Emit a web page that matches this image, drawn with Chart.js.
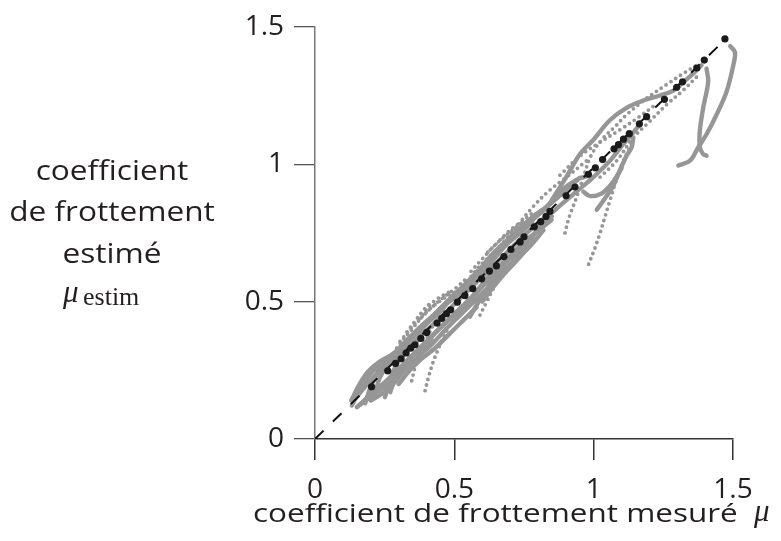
<!DOCTYPE html>
<html>
<head>
<meta charset="utf-8">
<script src="https://cdn.jsdelivr.net/npm/chart.js@4.4.1/dist/chart.umd.min.js"></script>
<style>
  body { margin: 0; background: #fff; }
</style>
</head>
<body>
<canvas id="frictionChart" width="781" height="541"></canvas>
<script>
/************************ DATA ************************** */
const tickValues = [0, 0.5, 1, 1.5];
const tickLabels = ["0", "0.5", "1", "1.5"];

// black estimated points (roughly on the diagonal)
const estimX = [0.203, 0.261, 0.289, 0.309, 0.327, 0.344, 0.359, 0.38, 0.401, 0.438, 0.455, 0.472, 0.487, 0.511, 0.538, 0.566, 0.598, 0.626, 0.651, 0.678, 0.703, 0.736, 0.75, 0.787, 0.81, 0.829, 0.843, 0.901, 0.933, 0.981, 1.006, 1.032, 1.073, 1.089, 1.107, 1.128, 1.164, 1.19, 1.254, 1.298, 1.319, 1.37, 1.397, 1.471];
const estimY = [0.19, 0.248, 0.275, 0.292, 0.313, 0.331, 0.343, 0.366, 0.388, 0.422, 0.439, 0.456, 0.47, 0.498, 0.522, 0.547, 0.583, 0.611, 0.63, 0.664, 0.69, 0.717, 0.736, 0.772, 0.791, 0.81, 0.828, 0.885, 0.917, 0.963, 0.987, 1.017, 1.056, 1.071, 1.091, 1.111, 1.147, 1.173, 1.236, 1.28, 1.3, 1.35, 1.379, 1.456];

// reference line
const refX = [0, 1.48];
const refY = [0, 1.462];

// gray trajectories, solid strands
const bandUpper = [[0.132, 0.122], [0.167, 0.188], [0.209, 0.248], [0.257, 0.283], [0.305, 0.325], [0.353, 0.373], [0.401, 0.421], [0.449, 0.463], [0.496, 0.523], [0.544, 0.559], [0.592, 0.6], [0.64, 0.66], [0.688, 0.72], [0.736, 0.768], [0.783, 0.81], [0.831, 0.846], [0.879, 0.9], [0.939, 0.944], [0.987, 0.959]];
const bandUpper2 = [[0.14, 0.15], [0.18, 0.22], [0.22, 0.265], [0.27, 0.3], [0.32, 0.345], [0.37, 0.39], [0.42, 0.44], [0.47, 0.49], [0.52, 0.53], [0.58, 0.585], [0.63, 0.64], [0.68, 0.7], [0.73, 0.745], [0.78, 0.79]];
const bandUpper3 = [[0.13, 0.14], [0.16, 0.2], [0.19, 0.245], [0.23, 0.28], [0.28, 0.31], [0.33, 0.36], [0.38, 0.41], [0.43, 0.455], [0.48, 0.505], [0.53, 0.545], [0.58, 0.6], [0.63, 0.665], [0.68, 0.715], [0.73, 0.76], [0.78, 0.8], [0.83, 0.84]];
const bandLower = [[0.15, 0.116], [0.197, 0.152], [0.245, 0.188], [0.281, 0.224], [0.329, 0.283], [0.377, 0.331], [0.425, 0.379], [0.472, 0.427], [0.52, 0.475], [0.568, 0.523], [0.616, 0.583], [0.664, 0.63], [0.712, 0.678], [0.76, 0.726], [0.807, 0.762], [0.849, 0.798]];
const bandLower2 = [[0.16, 0.125], [0.21, 0.17], [0.26, 0.215], [0.31, 0.265], [0.36, 0.315], [0.41, 0.365], [0.46, 0.415], [0.51, 0.46], [0.56, 0.51], [0.61, 0.565], [0.66, 0.615], [0.71, 0.665], [0.76, 0.71], [0.81, 0.775], [0.85, 0.81]];
const bandLower3 = [[0.2, 0.14], [0.24, 0.165], [0.28, 0.2], [0.32, 0.25], [0.37, 0.3], [0.42, 0.345], [0.47, 0.4], [0.52, 0.45], [0.57, 0.5], [0.62, 0.55], [0.67, 0.6], [0.72, 0.655], [0.77, 0.7], [0.82, 0.76]];
const bandLower4 = [[0.3, 0.2], [0.34, 0.25], [0.38, 0.29], [0.43, 0.33], [0.48, 0.38], [0.53, 0.43], [0.58, 0.48]];
const bandMid = [[0.138, 0.14], [0.221, 0.236], [0.305, 0.307], [0.389, 0.385], [0.472, 0.463], [0.568, 0.559], [0.664, 0.654], [0.76, 0.75], [0.843, 0.822]];
const bandMid2 = [[0.25, 0.27], [0.35, 0.37], [0.45, 0.475], [0.55, 0.575], [0.65, 0.68], [0.75, 0.77], [0.85, 0.86], [0.95, 0.95]];
const strandA = [[0.251, 0.152], [0.269, 0.212], [0.293, 0.272], [0.329, 0.319], [0.377, 0.367]];
const strandB = [[0.215, 0.164], [0.233, 0.224], [0.263, 0.272], [0.3, 0.31]];
const strandC = [[0.18, 0.13], [0.2, 0.19], [0.23, 0.25], [0.27, 0.29]];
const strandD = [[0.27, 0.17], [0.28, 0.2], [0.3, 0.24], [0.33, 0.28], [0.37, 0.32], [0.42, 0.36]];
const strandMid = [[0.556, 0.445], [0.58, 0.487], [0.61, 0.535], [0.64, 0.583], [0.68, 0.63]];
const strandMid2 = [[0.6, 0.5], [0.63, 0.54], [0.67, 0.59], [0.72, 0.645], [0.76, 0.69]];
const strandHigh = [[1.011, 0.834], [1.041, 0.876], [1.071, 0.923], [1.094, 0.977], [1.118, 1.031], [1.136, 1.061], [1.142, 1.097]];
const hookHigh = [[0.963, 0.9], [0.987, 0.884], [1.029, 0.894], [1.065, 0.929], [1.1, 0.985]];
const diagHigh = [[0.855, 0.828], [0.903, 0.87], [0.951, 0.911], [0.999, 0.953], [1.059, 1.013], [1.106, 1.073], [1.142, 1.115], [1.166, 1.145]];
const arcHigh = [[0.85, 0.87], [0.9, 0.95], [0.951, 1.037], [1.0, 1.09], [1.058, 1.16], [1.118, 1.205], [1.178, 1.232], [1.238, 1.25], [1.286, 1.268], [1.321, 1.298], [1.357, 1.33], [1.387, 1.36]];
const rightLeg = [[1.405, 1.348], [1.411, 1.3], [1.393, 1.205], [1.381, 1.121], [1.381, 1.061], [1.393, 1.037], [1.405, 1.031]];
const rightCross = [[1.49, 1.43], [1.507, 1.408], [1.501, 1.36], [1.477, 1.264], [1.441, 1.18], [1.405, 1.109], [1.375, 1.061], [1.346, 1.013], [1.304, 0.995]];

// gray trajectories, dotted
const dotLowA = [[0.395, 0.176], [0.407, 0.224], [0.425, 0.283], [0.449, 0.343], [0.478, 0.403], [0.508, 0.451]];
const dotLowB = [[0.347, 0.212], [0.359, 0.26], [0.377, 0.307], [0.401, 0.367], [0.425, 0.415]];
const dotMid = [[0.592, 0.451], [0.616, 0.499], [0.64, 0.547], [0.676, 0.606], [0.712, 0.654], [0.742, 0.702]];
const dotLong = [[0.982, 0.636], [1.005, 0.696], [1.023, 0.75], [1.041, 0.81], [1.059, 0.87], [1.077, 0.929], [1.097, 0.989], [1.124, 1.049], [1.142, 1.085]];
const dotUpper = [[0.897, 0.75], [0.913, 0.81], [0.94, 0.883], [0.962, 0.95], [0.99, 1.03], [1.03, 1.09], [1.08, 1.14], [1.118, 1.18], [1.19, 1.24], [1.262, 1.29], [1.321, 1.33], [1.37, 1.36]];
const dotSecond = [[0.879, 0.96], [0.951, 1.03], [1.023, 1.08], [1.094, 1.125], [1.16, 1.17], [1.22, 1.215]];
const dotNearDiag = [[1.023, 0.953], [1.083, 1.013], [1.142, 1.097], [1.19, 1.145], [1.262, 1.217], [1.322, 1.27], [1.37, 1.318]];
const dotAboveMid = [[0.664, 0.702], [0.724, 0.774], [0.783, 0.846], [0.843, 0.906], [0.903, 0.953], [0.975, 1.013]];
const dotAboveMid2 = [[0.62, 0.68], [0.66, 0.72], [0.7, 0.76], [0.74, 0.79], [0.79, 0.83]];
const dotAboveMid3 = [[0.56, 0.61], [0.6, 0.655], [0.64, 0.7], [0.69, 0.745], [0.74, 0.785]];
const dotAboveLow = [[0.293, 0.331], [0.341, 0.391], [0.401, 0.463], [0.461, 0.511], [0.52, 0.547], [0.592, 0.63], [0.652, 0.69]];
const dotAboveLow2 = [[0.305, 0.355], [0.365, 0.427], [0.425, 0.499], [0.49, 0.54]];
const dotAboveLow3 = [[0.33, 0.39], [0.36, 0.43], [0.39, 0.47], [0.42, 0.5]];
const dotAboveLow4 = [[0.38, 0.44], [0.42, 0.48], [0.46, 0.515], [0.5, 0.545], [0.55, 0.59]];
const strayX = [1.471];
const strayY = [1.515];

/************************ HELPERS ************************** */
const GRAY = "rgb(150,150,150)";
const solidCurves = [bandUpper, bandUpper2, bandUpper3, bandLower, bandLower2, bandLower3, bandLower4, bandMid, bandMid2, strandA, strandB, strandC, strandD, strandMid, strandMid2, strandHigh, hookHigh, diagHigh, arcHigh, rightLeg, rightCross];
const dottedCurves = [dotLowA, dotLowB, dotMid, dotLong, dotUpper, dotSecond, dotNearDiag, dotAboveMid, dotAboveMid2, dotAboveMid3, dotAboveLow, dotAboveLow2, dotAboveLow3, dotAboveLow4];

function toPoints(xs, ys) {
  return xs.map((x, i) => ({ x: x, y: ys[i] }));
}

function curveDataset(pts, dotted) {
  return {
    type: "line",
    data: pts.map((p) => ({ x: p[0], y: p[1] })),
    showLine: true,
    pointRadius: 0,
    borderColor: GRAY,
    borderWidth: dotted ? 3.8 : 4.4,
    borderDash: dotted ? [0, 5.8] : [],
    borderCapStyle: "round",
    borderJoinStyle: "round",
    tension: 0.35,
    clip: false,
    order: 3,
  };
}

let datasets = [];
datasets.push({
  data: toPoints(estimX, estimY),
  pointRadius: 3.6,
  pointBackgroundColor: "#1a1a1a",
  pointBorderWidth: 0,
  clip: false,
  order: 0,
});
datasets.push({
  type: "line",
  data: toPoints(refX, refY),
  showLine: true,
  pointRadius: 0,
  borderColor: "#111",
  borderWidth: 2,
  borderDash: [12, 13],
  order: 1,
});
datasets.push({
  data: toPoints(strayX, strayY),
  pointRadius: 1.8,
  pointBackgroundColor: GRAY,
  pointBorderWidth: 0,
  clip: false,
  order: 2,
});
solidCurves.forEach((c) => datasets.push(curveDataset(c, false)));
dottedCurves.forEach((c) => datasets.push(curveDataset(c, true)));

// the reference typeface is wider than Open Sans: stretch it a bit
function wideText(c, text, x, y, align, stretch) {
  c.save();
  c.translate(x, y);
  c.scale(stretch, 1);
  c.textAlign = align;
  c.fillText(text, 0, 0);
  c.restore();
}

// titles drawn as text next to the axes
const axisTitles = {
  id: "axisTitles",
  afterDraw(chart) {
    const c = chart.ctx;
    c.save();
    c.fillStyle = "#231f20";
    c.textBaseline = "alphabetic";
    c.font = '27px "Open Sans"';
    wideText(c, "coefficient", 112, 180, "center", 1.17);
    wideText(c, "de frottement", 112, 221, "center", 1.17);
    wideText(c, "estimé", 112, 263, "center", 1.17);
    c.font = '26px "Open Sans"';
    wideText(c, "coefficient de frottement mesuré", 253, 522, "left", 1.21);

    c.textAlign = "left";
    c.font = 'italic 31px "Liberation Serif"';
    c.fillText("μ", 63, 302);
    c.fillText("μ", 754, 521);
    c.font = '26px "Liberation Serif"';
    c.fillText("estim", 83, 305);
    c.restore();
  },
};

const ctx = document.getElementById("frictionChart");
const config = {
  type: "scatter",
  data: { datasets: datasets },
  plugins: [axisTitles],
  options: {
    responsive: false,
    animation: false,
    layout: { padding: { left: 0, right: 48, top: 21, bottom: 0 } },
    plugins: { legend: { display: false }, tooltip: { enabled: false } },
    scales: {
      x: {
        type: "linear",
        min: 0,
        max: 1.5,
        afterFit: (scale) => { scale.height = 102; },
        afterBuildTicks: (scale) => { scale.ticks = tickValues.map((v) => ({ value: v })); },
        border: { color: "#333", width: 1.5 },
        grid: { drawOnChartArea: false, drawTicks: true, tickLength: 21, color: "#333", lineWidth: 1.5 },
        ticks: {
          padding: 13,
          color: "#231f20",
          font: { family: "Open Sans", size: 28 },
          callback: (v) => tickLabels[tickValues.indexOf(v)],
        },
      },
      y: {
        type: "linear",
        min: 0,
        max: 1.5,
        afterFit: (scale) => { scale.width = 315; },
        afterBuildTicks: (scale) => { scale.ticks = tickValues.map((v) => ({ value: v })); },
        border: { color: "#777", width: 1.5 },
        grid: { drawOnChartArea: false, drawTicks: true, tickLength: 21, color: "#555", lineWidth: 1.3 },
        ticks: {
          padding: 10,
          color: "#231f20",
          font: { family: "Open Sans", size: 28 },
          callback: (v) => tickLabels[tickValues.indexOf(v)],
        },
      },
    },
  },
};

let frictionChart = new Chart(ctx, config);
</script>
</body>
</html>
